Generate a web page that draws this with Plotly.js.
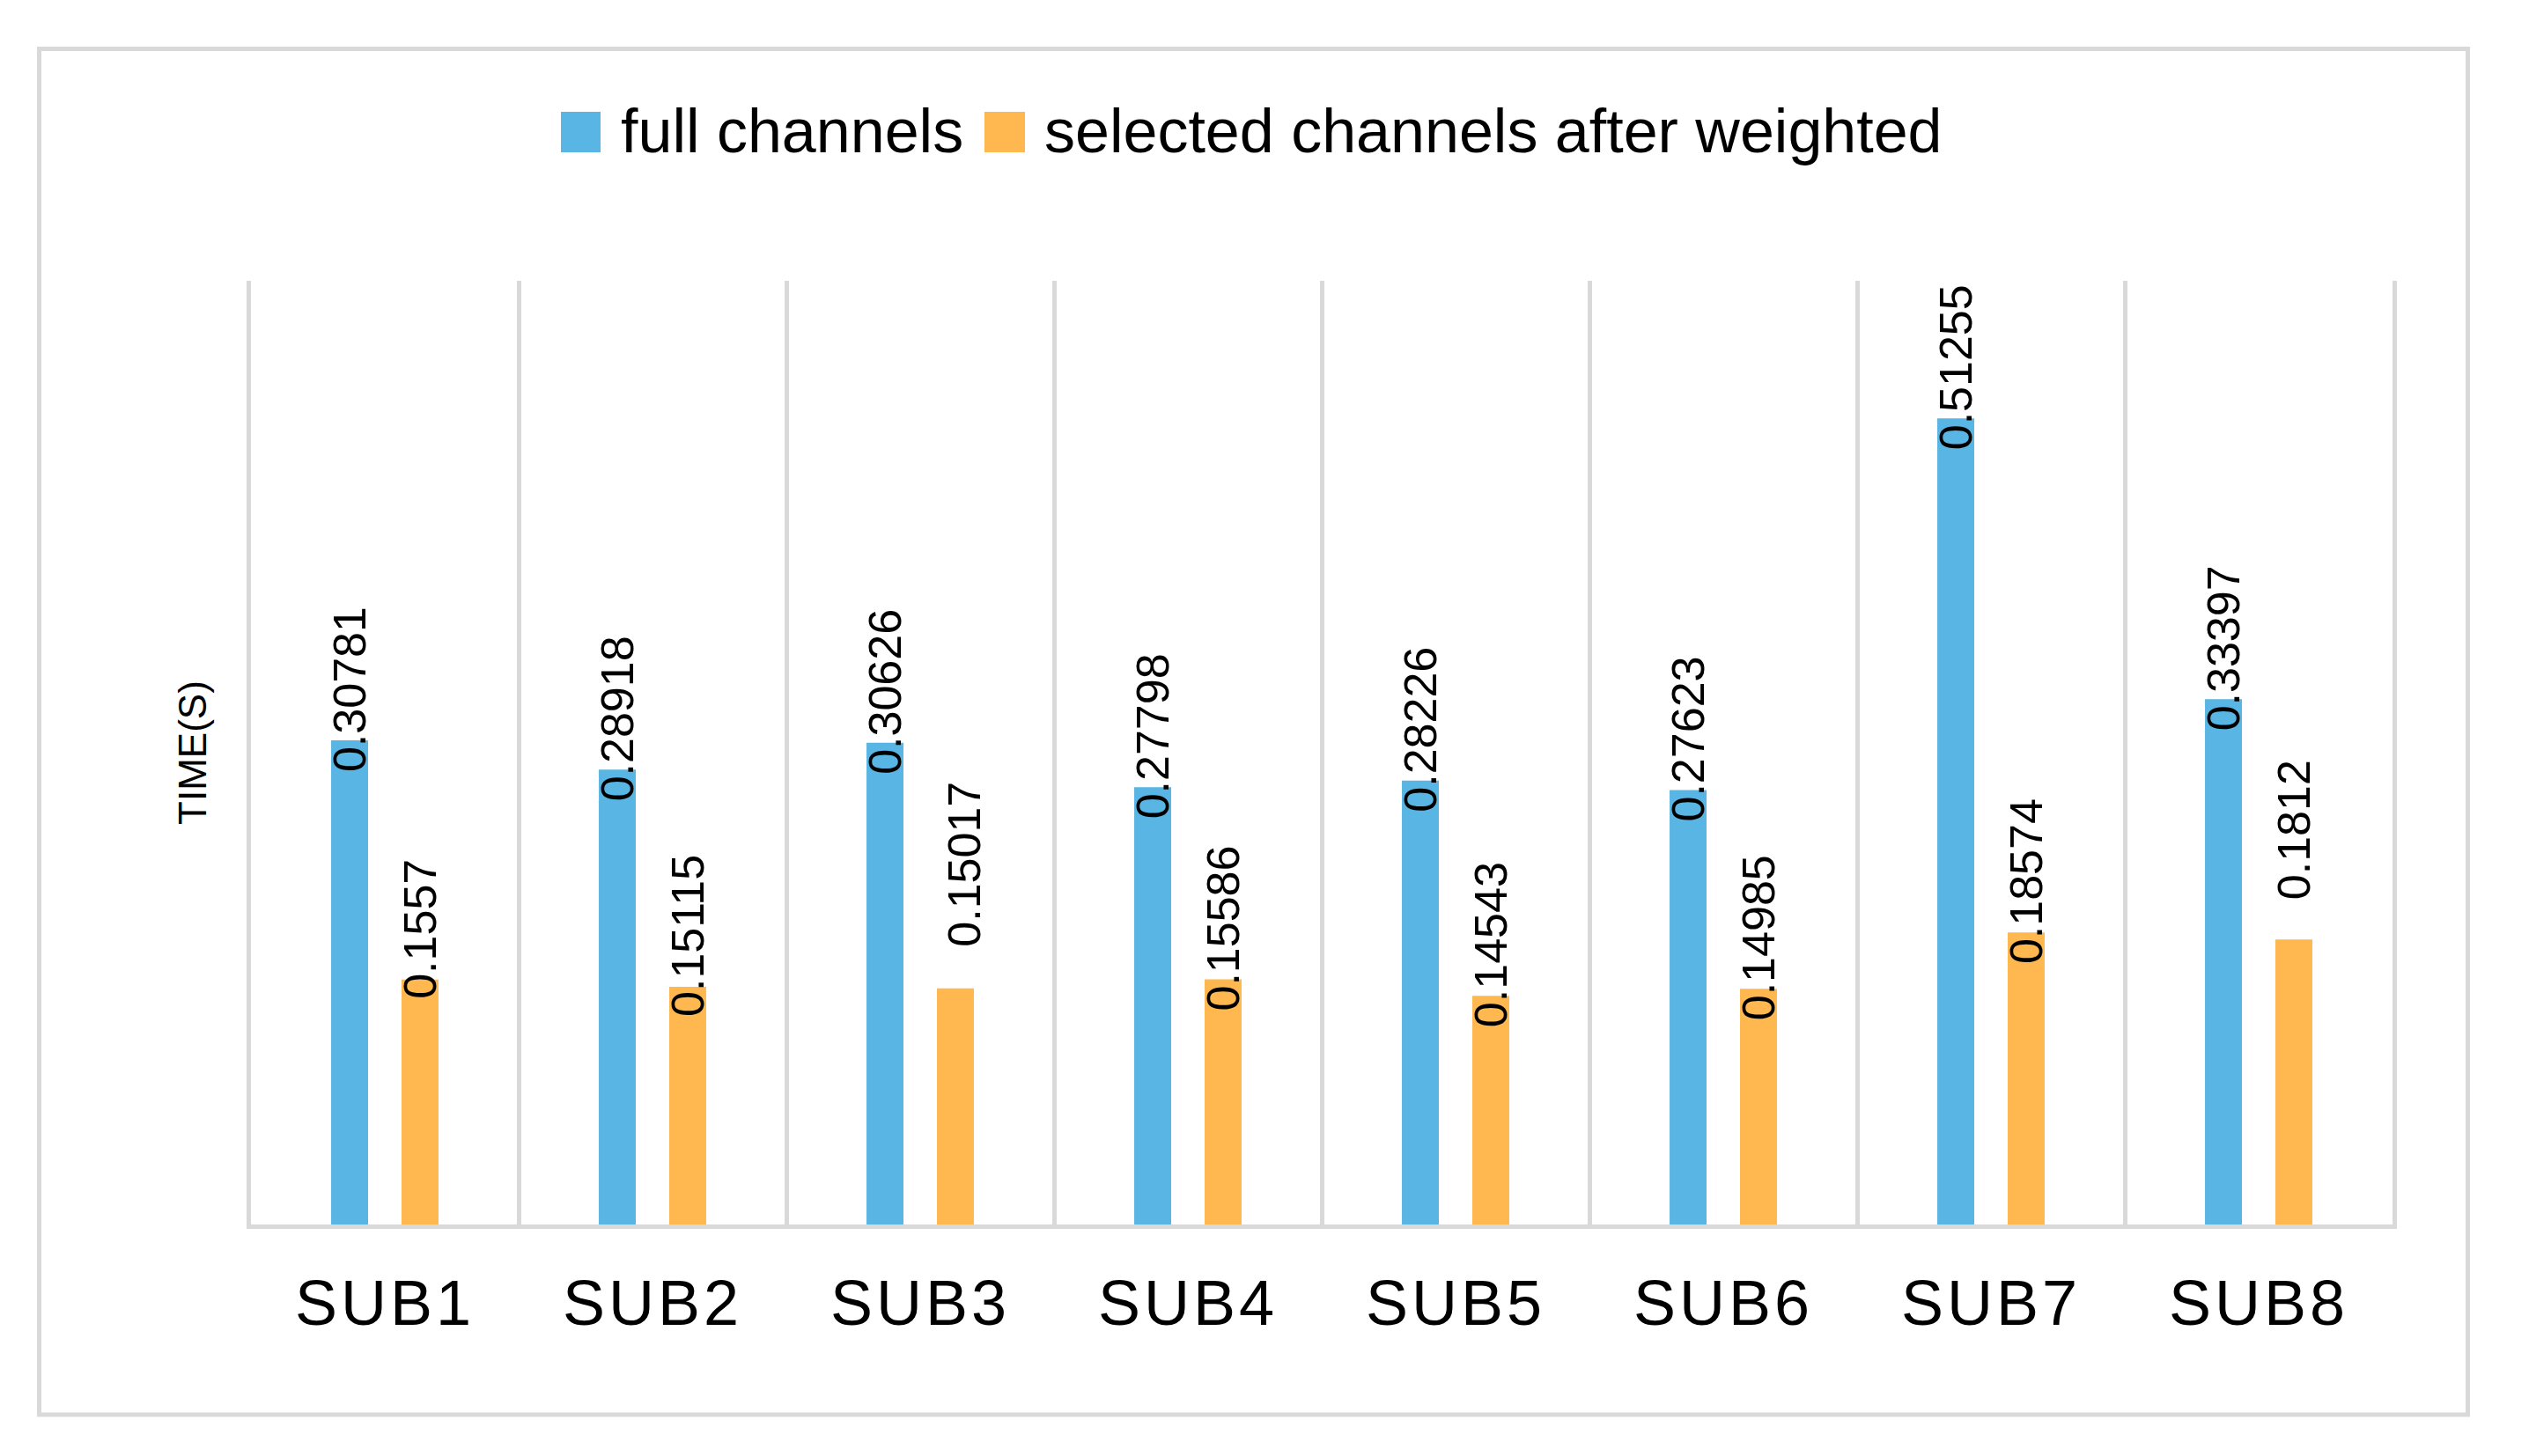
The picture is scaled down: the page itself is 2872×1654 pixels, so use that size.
<!DOCTYPE html>
<html>
<head>
<meta charset="utf-8">
<script src="https://cdn.plot.ly/plotly-3.0.1.min.js"></script>
<style>
  html, body { margin: 0; padding: 0; background: #ffffff; }
  #chart { width: 2872px; height: 1654px; }
  #chart .xtick text { letter-spacing: 4px; }
</style>
</head>
<body>
<div id="chart"></div>
<script>
// ---- data ----
const categories = ["SUB1", "SUB2", "SUB3", "SUB4", "SUB5", "SUB6", "SUB7", "SUB8"];
const seriesNames = ["full channels", "selected channels after weighted"];
const fullChannels = [0.30781, 0.28918, 0.30626, 0.27798, 0.28226, 0.27623, 0.51255, 0.33397];
const selectedChannels = [0.1557, 0.15115, 0.15017, 0.15586, 0.14543, 0.14985, 0.18574, 0.1812];
const yAxisTitle = "TIME(S)";

// ---- style ----
const colors = ["#59B5E3", "#FFB850"];
const gridGray = "#D9D9D9";
const FONT = '"Liberation Sans", Arial, sans-serif';

const W = 2872, H = 1654;
const M = { l: 285, r: 155, t: 319, b: 263 };
const plotW = W - M.l - M.r, plotH = H - M.t - M.b;
const px2x = px => (px - M.l) / plotW;
const px2y = py => (H - M.b - py) / plotH;

const bargap = 0.474, bargroupgap = 0.475;
const catPx = plotW / categories.length;
const barOffsetPx = catPx * (1 - bargap) / 4;

const traces = [
  { type: "bar", name: seriesNames[0], x: categories, y: fullChannels,
    marker: { color: colors[0] }, hoverinfo: "skip" },
  { type: "bar", name: seriesNames[1], x: categories, y: selectedChannels,
    marker: { color: colors[1] }, hoverinfo: "skip" }
];

// value labels (Excel-style rotated labels, a couple moved by hand in the original)
const labelLift = 58;
const manualLabel = { "1-2": { dy: 141, dx: 10 }, "1-7": { dy: 125, dx: 0 } };
const annotations = [];
[fullChannels, selectedChannels].forEach((vals, s) => {
  vals.forEach((v, i) => {
    const m = manualLabel[s + "-" + i] || { dy: labelLift, dx: 0 };
    annotations.push({
      x: categories[i], y: v, xref: "x", yref: "y",
      text: String(v), showarrow: false, textangle: -90,
      xanchor: "center", yanchor: "middle",
      xshift: (s === 0 ? -barOffsetPx : barOffsetPx) + m.dx,
      yshift: m.dy,
      font: { family: FONT, size: 52, color: "#000000" }
    });
  });
});

// custom legend (large square swatches like the original)
const legendItems = [
  { sq: [637, 682], textX: 703 },
  { sq: [1118, 1164], textX: 1184 }
];
const shapes = [
  { type: "rect", xref: "paper", yref: "paper",
    x0: px2x(44.5), x1: px2x(2802.5), y0: px2y(1607), y1: px2y(55.5),
    line: { color: gridGray, width: 5 }, fillcolor: "rgba(0,0,0,0)", layer: "below" }
];
legendItems.forEach((it, k) => {
  shapes.push({ type: "rect", xref: "paper", yref: "paper",
    x0: px2x(it.sq[0]), x1: px2x(it.sq[1]), y0: px2y(173), y1: px2y(127),
    line: { width: 0 }, fillcolor: colors[k] });
  annotations.push({ xref: "paper", yref: "paper", x: px2x(it.textX), y: px2y(149),
    xanchor: "left", yanchor: "middle", showarrow: false, text: seriesNames[k],
    font: { family: FONT, size: 70, color: "#000000" } });
});

const layout = {
  width: W, height: H,
  margin: M,
  paper_bgcolor: "#ffffff", plot_bgcolor: "#ffffff",
  showlegend: false,
  barmode: "group", bargap: bargap, bargroupgap: bargroupgap,
  font: { family: FONT, color: "#000000" },
  xaxis: {
    type: "category", tickson: "boundaries",
    showgrid: true, gridcolor: gridGray, gridwidth: 5,
    showline: true, linecolor: gridGray, linewidth: 5,
    ticks: "", ticklabelstandoff: 23,
    tickfont: { family: FONT, size: 72, color: "#000000" },
    zeroline: false, fixedrange: true
  },
  yaxis: {
    range: [0, 0.6], showticklabels: false, ticks: "",
    showgrid: false, zeroline: false,
    showline: true, mirror: true, linecolor: gridGray, linewidth: 5,
    title: { text: yAxisTitle, standoff: 33, font: { family: FONT, size: 44, color: "#000000" } },
    fixedrange: true
  },
  shapes: shapes,
  annotations: annotations
};

Plotly.newPlot("chart", traces, layout, { displayModeBar: false, staticPlot: true });
</script>
</body>
</html>
